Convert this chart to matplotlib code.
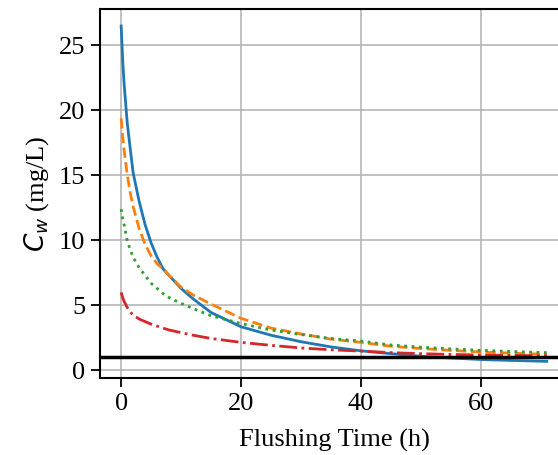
import numpy as np
import matplotlib
matplotlib.use("Agg")
import matplotlib.pyplot as plt

# tiempos de lavado (h) y concentraciones (mg/L)
t = [0, 0.25, 0.5, 1, 1.5, 2, 3, 4, 5, 6, 7, 8, 10, 12, 15, 20, 25, 30, 35, 40,
     45, 50, 55, 60, 65, 71]

c_azul = [26.5, 23.9, 22.0, 19.1, 17.1, 15.2, 13.0, 11.2, 9.8, 8.7, 7.8, 7.3,
          6.3, 5.5, 4.45, 3.35, 2.7, 2.2, 1.8, 1.5, 1.28, 1.08, 0.95, 0.83,
          0.76, 0.69]
c_naranja = [19.4, 18.0, 16.9, 15.1, 13.7, 12.6, 10.9, 9.7, 8.8, 8.2, 7.8, 7.3,
             6.4, 5.8, 5.1, 4.0, 3.25, 2.8, 2.4, 2.15, 1.85, 1.68, 1.53, 1.41,
             1.32, 1.23]
c_verde = [12.4, 11.7, 11.2, 10.0, 9.3, 8.7, 7.9, 7.3, 6.7, 6.3, 5.9, 5.6,
           5.15, 4.75, 4.2, 3.6, 3.1, 2.75, 2.45, 2.25, 1.95, 1.78, 1.65, 1.54,
           1.45, 1.36]
c_rojo = [6.0, 5.6, 5.3, 4.85, 4.5, 4.25, 3.95, 3.75, 3.55, 3.4, 3.25, 3.1,
          2.9, 2.7, 2.45, 2.15, 1.92, 1.72, 1.58, 1.48, 1.36, 1.28, 1.22, 1.18,
          1.15, 1.12]
limite = 1.0

plt.rcParams['font.family'] = ['Liberation Serif', 'DejaVu Serif']
plt.rcParams['mathtext.fontset'] = 'dejavusans'

fig = plt.figure(figsize=(5.58, 4.55), dpi=100)
ax = fig.add_axes([0.179, 0.169, 0.839, 0.811])

ax.plot(t, c_azul, color='tab:blue', lw=2.0, ls='-')
ax.plot(t, c_naranja, color='tab:orange', lw=2.0, ls='--')
ax.plot(t, c_verde, color='tab:green', lw=2.0, ls=':')
ax.plot(t, c_rojo, color='tab:red', lw=2.0, ls='-.')
ax.axhline(limite, color='black', lw=2.5)

ax.set_xlim(-3.55, 74.55)
ax.set_ylim(-0.6, 27.8)
ax.set_xticks([0, 20, 40, 60])
ax.set_yticks([0, 5, 10, 15, 20, 25])
ax.grid(True, color='#b0b0b0', lw=1.1)
ax.set_axisbelow(True)

for s in ax.spines.values():
    s.set_linewidth(1.5)
ax.tick_params(labelsize=19, length=6.5, width=1.3, pad=4)

ax.set_xlabel('Flushing Time (h)', fontsize=19, labelpad=10)
ax.set_ylabel('$C_w$ (mg/L)', fontsize=19, labelpad=6)

fig.savefig('out.png', dpi=100)
